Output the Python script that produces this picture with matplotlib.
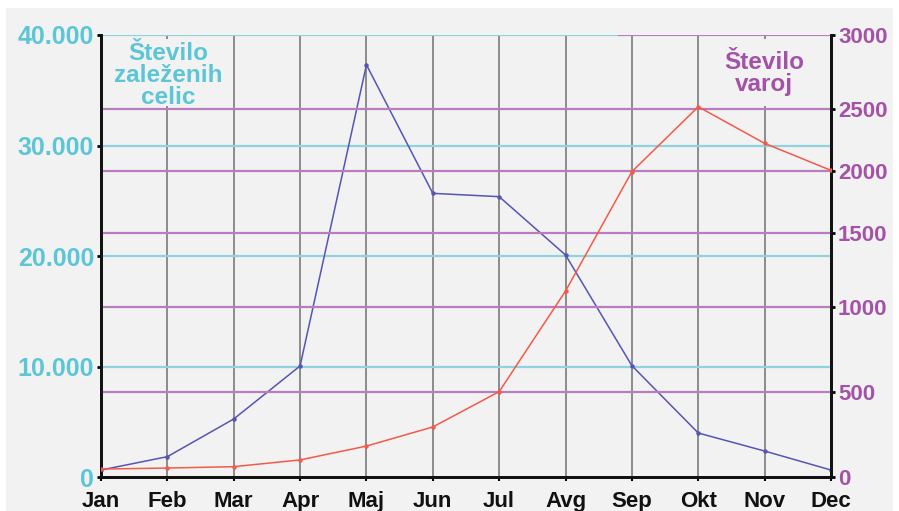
import numpy as np
import matplotlib
matplotlib.use("Agg")
import matplotlib.pyplot as plt
from matplotlib.patches import Rectangle
from matplotlib.ticker import NullLocator

months = ["Jan", "Feb", "Mar", "Apr", "Maj", "Jun", "Jul", "Avg", "Sep", "Okt", "Nov", "Dec"]
celice = [630, 1840, 5250, 10050, 37300, 25670, 25370, 20090, 10070, 3980, 2350, 630]
varoje = [47, 53, 61, 101, 183, 296, 505, 1108, 1995, 2515, 2223, 2005]

left_ticks = [0, 10000, 20000, 30000, 40000]
left_labels = ["0", "10.000", "20.000", "30.000", "40.000"]
right_ticks = [0, 500, 1000, 1500, 2000, 2500, 3000]
# the right axis of the original drawing is not evenly spaced
right_pos = [0.0, 0.1912, 0.3846, 0.552, 0.6923, 0.8326, 1.0]

CYAN = "#5cc6d6"
CYAN_GRID = "#8fd3de"
MAGENTA = "#a452a8"
MAGENTA_GRID = "#b97cbf"
BLUE = "#5555b5"
RED = "#f25a4a"
BG = "#f2f2f2"
FONT = "Liberation Sans"


def fwd(v):
    return np.interp(v, right_ticks, right_pos)


def inv(f):
    return np.interp(f, right_pos, right_ticks)


fig = plt.figure(figsize=(8.99, 5.11), dpi=100, facecolor="white")
fig.patches.append(Rectangle((6 / 899, 0), 887 / 899, 503 / 511, transform=fig.transFigure,
                             facecolor=BG, edgecolor="none", zorder=-10))

ax = fig.add_axes([101 / 899, 34 / 511, 730 / 899, 442 / 511])
ax.set_facecolor(BG)
ax2 = ax.twinx()
ax2.set_yscale("function", functions=(fwd, inv))

x = np.arange(len(months))
ax.set_xlim(0, len(months) - 1)
ax.set_ylim(0, 40000)
ax2.set_ylim(0, 3000)

# grid lines
for m in x[1:-1]:
    ax.axvline(m, color="#8c8c8c", lw=1.4, zorder=1)
for t in left_ticks[1:]:
    xmax = 0.71 if t == 40000 else 1
    ax.axhline(t, xmax=xmax, color=CYAN_GRID, lw=1.6, zorder=1)
for t in right_ticks[1:]:
    xmin = 0.71 if t == 3000 else 0
    ax2.axhline(t, xmin=xmin, color=MAGENTA_GRID, lw=1.6, zorder=1)

ax.plot(x, celice, color=BLUE, lw=1.1, marker="o", ms=2.2, zorder=3)
ax2.plot(x, varoje, color=RED, lw=1.1, marker="o", ms=2.2, zorder=3)

# spines and ticks
for a in (ax, ax2):
    a.spines["top"].set_visible(False)
    for s in ("left", "right", "bottom"):
        a.spines[s].set_linewidth(2)
        a.spines[s].set_color("#111111")

ax.set_yticks(left_ticks)
ax.set_yticklabels(left_labels)
ax.tick_params(axis="y", length=3, width=2, pad=2, labelsize=18, labelcolor=CYAN)
for lab in ax.get_yticklabels():
    lab.set_fontfamily(FONT)
    lab.set_fontweight("bold")

ax2.set_yticks(right_ticks)
ax2.set_yticklabels([str(t) for t in right_ticks])
ax2.yaxis.set_minor_locator(NullLocator())
ax2.tick_params(axis="y", length=3, width=2, pad=2, labelsize=16, labelcolor=MAGENTA)
for lab in ax2.get_yticklabels():
    lab.set_fontfamily(FONT)
    lab.set_fontweight("bold")

ax.set_xticks(x)
ax.set_xticklabels(months)
ax.tick_params(axis="x", length=3, width=1.5, pad=7, labelsize=16, labelcolor="#111111")
for lab in ax.get_xticklabels():
    lab.set_fontfamily(FONT)
    lab.set_fontweight("bold")

# axis captions on grey patches that hide the grid
ax2.add_patch(Rectangle((0.003, 0.84), 0.172, 0.152, transform=ax2.transAxes,
                        facecolor=BG, edgecolor="none", zorder=4))
ax2.text(0.092, 0.908, "Število\nzaleženih\ncelic", transform=ax2.transAxes, ha="center",
         va="center", color=CYAN, fontsize=17.5, fontweight="bold", family=FONT,
         linespacing=0.95, zorder=5)
ax2.add_patch(Rectangle((0.85, 0.84), 0.146, 0.152, transform=ax2.transAxes,
                        facecolor=BG, edgecolor="none", zorder=4))
ax2.text(0.908, 0.912, "Število\nvaroj", transform=ax2.transAxes, ha="center",
         va="center", color=MAGENTA, fontsize=17.5, fontweight="bold", family=FONT,
         linespacing=0.95, zorder=5)

fig.savefig("out.png", dpi=100, facecolor=fig.get_facecolor())
